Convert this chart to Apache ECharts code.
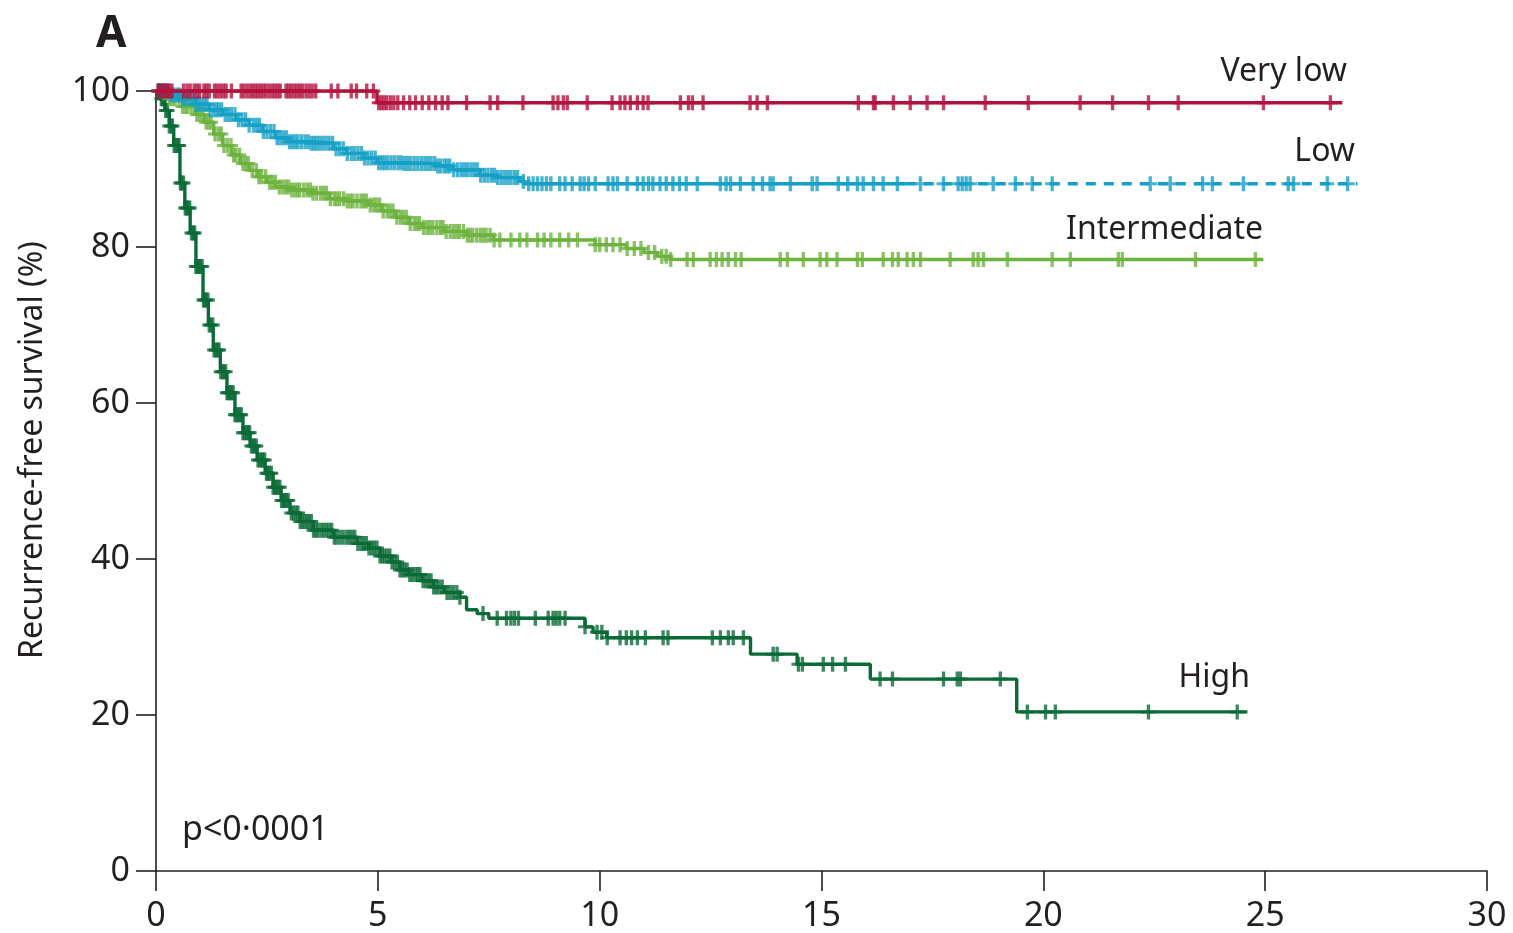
<!DOCTYPE html>
<html>
<head>
<meta charset="utf-8">
<script src="https://cdn.jsdelivr.net/npm/echarts@6/dist/echarts.min.js"></script>
<style>
html,body{margin:0;padding:0;background:#fff;}
#chart{width:1513px;height:933px;}
</style>
</head>
<body>
<div id="chart"></div>
<script>
// ---- Data (years, recurrence-free survival %) ----
const xTicks = [0, 5, 10, 15, 20, 25, 30];
const yTicks = [0, 20, 40, 60, 80, 100];

const groupNames = ['Very low', 'Low', 'Intermediate', 'High'];

// Kaplan-Meier step points [time, survival after event]
const veryLowSteps = [[0,100],[4.98,98.5],[26.74,98.5]];
const veryLowCensor = [0.05,0.1,0.15,0.2,0.25,0.3,0.36,0.62,0.7,0.77,0.86,0.92,0.98,1.08,1.14,1.2,1.32,1.38,1.45,1.52,1.58,1.7,1.92,1.98,2.05,2.12,2.18,2.24,2.3,2.36,2.42,2.48,2.55,2.62,2.68,2.74,2.8,2.93,2.99,3.05,3.12,3.18,3.24,3.3,3.38,3.45,3.52,3.6,3.95,4.1,4.4,4.52,4.75,4.9,5.02,5.08,5.14,5.2,5.28,5.36,5.45,5.58,5.72,5.85,6.0,6.15,6.3,6.45,6.58,7.0,7.53,7.7,8.27,8.95,9.06,9.18,9.27,9.72,10.28,10.46,10.57,10.69,10.85,10.98,11.09,11.82,12.0,12.09,12.33,13.39,13.55,13.78,15.83,16.17,16.21,16.62,17.0,17.38,17.75,18.69,19.66,20.83,21.56,22.37,23.04,24.96,26.47];

const lowSteps = [[0,100],[0.3,99.5],[0.6,99],[0.9,98.3],[1.2,97.6],[1.5,97],[1.8,96.3],[2.1,95.6],[2.4,94.8],[2.7,94],[3.0,93.5],[3.5,93.3],[4.0,92.6],[4.3,92],[4.7,91.4],[5.0,90.8],[5.6,90.7],[6.3,90.4],[6.7,89.9],[7.3,89.2],[7.7,88.9],[8.2,88.4],[8.3,88.1],[27.08,88.1]];
const lowDashFrom = 16.9;
const lowCensor = [0.1,0.15,0.2,0.27,0.33,0.4,0.48,0.54,0.6,0.67,0.74,0.82,0.9,0.96,1.02,1.09,1.15,1.22,1.3,1.36,1.41,1.48,1.56,1.63,1.7,1.78,1.86,1.94,2.02,2.1,2.2,2.27,2.33,2.42,2.5,2.58,2.66,2.73,2.8,2.87,2.94,3.01,3.08,3.14,3.2,3.28,3.36,3.43,3.5,3.56,3.62,3.69,3.76,3.83,3.9,3.98,4.06,4.14,4.22,4.31,4.4,4.47,4.55,4.63,4.7,4.78,4.86,4.94,5.02,5.09,5.15,5.22,5.3,5.38,5.46,5.53,5.6,5.67,5.74,5.82,5.9,5.98,6.06,6.13,6.2,6.28,6.35,6.42,6.5,6.56,6.62,6.71,6.8,6.88,6.95,7.02,7.1,7.17,7.24,7.32,7.4,7.48,7.56,7.63,7.7,7.78,7.86,7.93,8.0,8.08,8.15,8.28,8.4,8.5,8.6,8.7,8.8,8.9,9.1,9.22,9.38,9.56,9.65,9.75,9.9,10.19,10.3,10.4,10.62,10.85,10.98,11.1,11.2,11.36,11.5,11.65,11.8,11.95,12.2,12.72,12.85,12.95,13.17,13.46,13.67,13.84,13.91,14.3,14.79,14.9,15.38,15.59,15.81,15.94,16.17,16.39,16.71,17.23,17.75,18.08,18.17,18.26,18.35,18.87,19.37,19.75,20.2,22.41,22.86,23.59,23.81,24.51,25.52,25.64,26.4,26.86];

const intSteps = [[0,100],[0.3,99],[0.6,98],[0.9,97],[1.1,96],[1.3,94.5],[1.5,93],[1.7,91.8],[1.9,90.7],[2.1,89.8],[2.3,89],[2.5,88.3],[2.7,87.7],[3.0,87.3],[3.5,86.9],[3.9,86.2],[4.3,85.9],[4.8,85.4],[5.1,84.6],[5.4,83.8],[5.7,83.0],[6.0,82.5],[6.5,82.0],[7.0,81.5],[7.6,80.9],[9.9,80.3],[10.6,79.8],[11.0,79.3],[11.3,78.8],[11.6,78.4],[24.96,78.4]];
const intCensor = [0.14,0.22,0.3,0.37,0.43,0.52,0.6,0.66,0.71,0.79,0.86,0.92,0.98,1.05,1.13,1.19,1.24,1.33,1.41,1.47,1.53,1.61,1.69,1.75,1.8,1.88,1.96,2.02,2.08,2.17,2.26,2.32,2.38,2.47,2.56,2.62,2.69,2.78,2.86,2.93,2.99,3.06,3.13,3.19,3.24,3.33,3.41,3.48,3.54,3.62,3.71,3.78,3.84,3.93,4.02,4.08,4.14,4.23,4.31,4.38,4.44,4.53,4.62,4.68,4.74,4.83,4.91,4.97,5.04,5.12,5.21,5.27,5.34,5.43,5.51,5.57,5.64,5.73,5.82,5.88,5.94,6.03,6.11,6.17,6.24,6.33,6.41,6.47,6.54,6.63,6.71,6.78,6.84,6.93,7.02,7.08,7.14,7.23,7.31,7.38,7.44,7.53,7.62,7.75,8.0,8.2,8.36,8.6,8.75,8.9,9.1,9.3,9.5,9.9,10.0,10.15,10.3,10.46,10.62,10.78,10.93,11.1,11.24,11.4,11.5,11.6,11.97,12.11,12.49,12.63,12.76,12.9,13.06,13.19,14.07,14.23,14.59,14.97,15.12,15.35,15.81,15.92,16.39,16.6,16.73,16.93,17.07,17.23,17.9,18.42,18.53,18.65,19.19,20.2,20.61,21.69,21.78,23.43,24.78];

const highSteps = [[0,100],[0.1,99],[0.2,97.5],[0.3,95.5],[0.4,93],[0.54,88.2],[0.65,85],[0.77,81.8],[0.9,77.5],[1.06,73.2],[1.18,70],[1.29,66.8],[1.45,64],[1.6,61.3],[1.78,58.5],[1.96,56.2],[2.12,54.5],[2.28,52.7],[2.46,51],[2.64,49.2],[2.82,47.5],[3.02,45.9],[3.25,44.8],[3.54,43.7],[4.0,42.8],[4.53,42],[4.8,41.4],[5.05,40.4],[5.3,39.6],[5.5,38.6],[5.7,38.0],[6.0,37.2],[6.25,36.4],[6.5,35.7],[6.85,35.1],[7.0,33.5],[7.24,33.0],[7.5,32.4],[9.67,31.3],[9.85,30.6],[10.16,29.9],[13.4,27.8],[14.45,26.5],[16.1,24.6],[19.4,20.4],[24.6,20.4]];
const highCensor = [0.05,0.08,0.12,0.15,0.19,0.22,0.26,0.3,0.34,0.37,0.41,0.45,0.49,0.52,0.55,0.58,0.62,0.66,0.69,0.72,0.76,0.8,0.84,0.87,0.9,0.93,0.97,1.0,1.04,1.07,1.1,1.13,1.17,1.2,1.24,1.28,1.31,1.35,1.39,1.42,1.46,1.5,1.53,1.57,1.6,1.63,1.67,1.7,1.74,1.78,1.81,1.85,1.89,1.92,1.96,2.0,2.04,2.08,2.11,2.15,2.19,2.22,2.26,2.3,2.34,2.38,2.41,2.45,2.49,2.52,2.56,2.6,2.64,2.68,2.71,2.75,2.79,2.83,2.87,2.9,2.94,2.98,3.05,3.1,3.15,3.2,3.25,3.3,3.35,3.4,3.45,3.5,3.55,3.6,3.65,3.72,3.78,3.84,3.9,3.96,4.02,4.08,4.15,4.22,4.3,4.36,4.42,4.48,4.55,4.62,4.68,4.74,4.8,4.86,4.92,4.98,5.05,5.1,5.15,5.21,5.27,5.32,5.38,5.44,5.5,5.55,5.6,5.66,5.72,5.78,5.85,5.9,5.95,6.02,6.08,6.14,6.2,6.26,6.32,6.38,6.45,6.56,6.63,6.7,6.78,6.85,7.37,7.69,7.9,8.0,8.08,8.17,8.55,8.84,8.95,9.02,9.1,9.22,9.67,9.94,10.05,10.17,10.46,10.6,10.72,10.85,11.03,11.43,11.54,12.54,12.72,12.9,13.01,13.24,13.91,14.0,14.48,14.57,15.04,15.25,15.54,16.32,16.6,17.75,18.06,18.13,19.03,19.64,20.05,20.27,22.37,24.37];

const pValueText = 'p<0\u00b70001';
const panelLetter = 'A';
const yAxisTitle = 'Recurrence-free survival (%)';

// ---- helpers ----
function survAt(steps, t) {
  let s = steps[0][1];
  for (const p of steps) { if (p[0] <= t) s = p[1]; else break; }
  return s;
}
function censorPts(steps, times) { return times.map(t => [t, survAt(steps, t)]); }

const colors = { vl: '#B3123D', low: '#17A0C6', int: '#6DB33F', high: '#0B6B37' };
const txt = '#231F20';
const FONT = 'Noto Sans';
const plus = 'path://M38,0H62V40H100V60H62V100H38V60H0V40H38Z';

function lineSeries(data, color, dashed, z) {
  return { type: 'line', step: 'end', data, showSymbol: false, symbol: 'none', silent: true, z,
    lineStyle: { color, width: 3.4, type: dashed ? [10, 8] : 'solid' } };
}
function censorSeries(steps, times, color, z) {
  return { type: 'scatter', data: censorPts(steps, times), symbol: plus, symbolSize: [14, 15], silent: true, z,
    itemStyle: { color } };
}

const lowSolid = lowSteps.filter(p => p[0] < lowDashFrom).concat([[lowDashFrom, survAt(lowSteps, lowDashFrom)]]);
const lowDash = [[lowDashFrom, survAt(lowSteps, lowDashFrom)], lowSteps[lowSteps.length - 1]];

const chart = echarts.init(document.getElementById('chart'), null, { renderer: 'canvas' });
const axisCommon = {
  axisLine: { show: true, onZero: false, lineStyle: { color: txt, width: 1.6 } },
  axisTick: { show: true, inside: false, length: 20, lineStyle: { color: txt, width: 1.6 } },
  splitLine: { show: false },
  axisLabel: { color: txt, fontSize: 34, fontFamily: FONT }
};
chart.setOption({
  animation: false,
  backgroundColor: '#ffffff',
  grid: { left: 156, right: 26, top: 91, bottom: 62, containLabel: false },
  xAxis: Object.assign({ type: 'value', min: xTicks[0], max: xTicks[xTicks.length - 1], interval: 5 }, axisCommon,
    { axisLabel: Object.assign({}, axisCommon.axisLabel, { margin: 28 }) }),
  yAxis: Object.assign({ type: 'value', min: yTicks[0], max: yTicks[yTicks.length - 1], interval: 20 }, axisCommon,
    { axisLabel: Object.assign({}, axisCommon.axisLabel, { margin: 26 }) }),
  series: [
    lineSeries(highSteps, colors.high, false, 2),
    censorSeries(highSteps, highCensor, colors.high, 2),
    lineSeries(intSteps, colors.int, false, 3),
    censorSeries(intSteps, intCensor, colors.int, 3),
    lineSeries(lowSolid, colors.low, false, 4),
    lineSeries(lowDash, colors.low, true, 4),
    censorSeries(lowSteps, lowCensor, colors.low, 4),
    lineSeries(veryLowSteps, colors.vl, false, 5),
    censorSeries(veryLowSteps, veryLowCensor, colors.vl, 5)
  ],
  graphic: [
    { type: 'text', left: 96, top: 12, style: { text: panelLetter, font: 'bold 44px "' + FONT + '"', fill: txt } },
    { type: 'text', x: 33, y: 450, rotation: Math.PI / 2,
      style: { text: yAxisTitle, font: '32px "' + FONT + '"', fill: txt, align: 'center', verticalAlign: 'middle' } },
    { type: 'text', x: 182, y: 830, style: { text: pValueText, font: '34px "' + FONT + '"', fill: txt, verticalAlign: 'middle' } },
    { type: 'text', x: 1347, y: 72, style: { text: groupNames[0], font: '32px "' + FONT + '"', fill: txt, align: 'right', verticalAlign: 'middle' } },
    { type: 'text', x: 1355, y: 152, style: { text: groupNames[1], font: '32px "' + FONT + '"', fill: txt, align: 'right', verticalAlign: 'middle' } },
    { type: 'text', x: 1263, y: 230, style: { text: groupNames[2], font: '32px "' + FONT + '"', fill: txt, align: 'right', verticalAlign: 'middle' } },
    { type: 'text', x: 1250, y: 678, style: { text: groupNames[3], font: '32px "' + FONT + '"', fill: txt, align: 'right', verticalAlign: 'middle' } }
  ]
});
</script>
</body>
</html>
